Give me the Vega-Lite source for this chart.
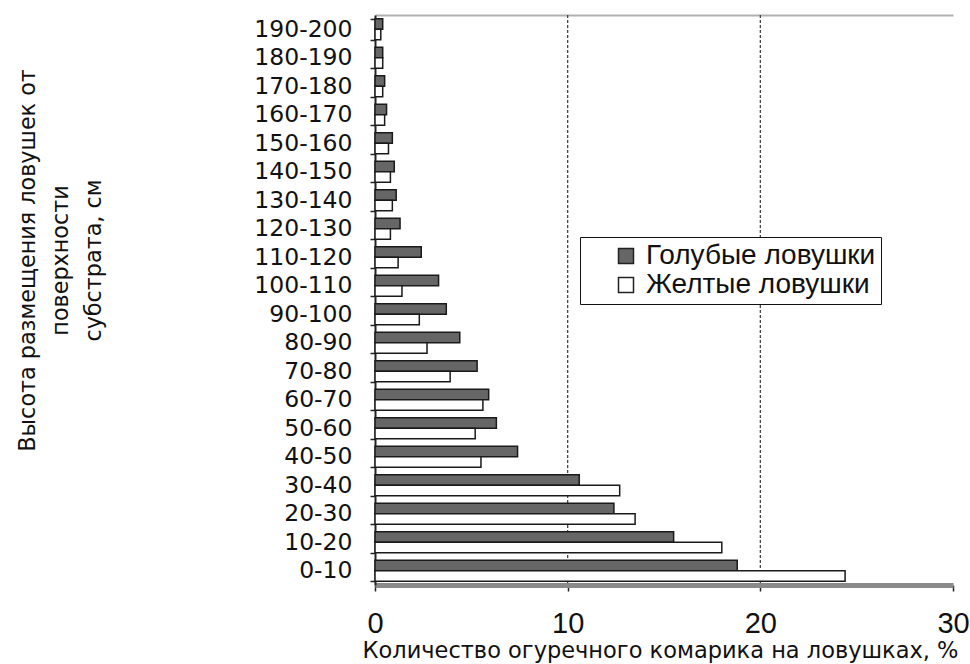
{
  "$schema": "https://vega.github.io/schema/vega-lite/v6.json",
  "width": 578,
  "height": 570,
  "autosize": {"type": "none"},
  "padding": {"left": 375, "top": 15, "right": 17, "bottom": 79},
  "background": "white",
  "config": {"view": {"stroke": null}, "font": "Liberation Sans"},
  "datasets": {
    "bars": [
      {"h": "0-10", "s": "Голубые ловушки", "v": 18.8},
      {"h": "0-10", "s": "Желтые ловушки", "v": 24.4},
      {"h": "10-20", "s": "Голубые ловушки", "v": 15.5},
      {"h": "10-20", "s": "Желтые ловушки", "v": 18.0},
      {"h": "20-30", "s": "Голубые ловушки", "v": 12.4},
      {"h": "20-30", "s": "Желтые ловушки", "v": 13.5},
      {"h": "30-40", "s": "Голубые ловушки", "v": 10.6},
      {"h": "30-40", "s": "Желтые ловушки", "v": 12.7},
      {"h": "40-50", "s": "Голубые ловушки", "v": 7.4},
      {"h": "40-50", "s": "Желтые ловушки", "v": 5.5},
      {"h": "50-60", "s": "Голубые ловушки", "v": 6.3},
      {"h": "50-60", "s": "Желтые ловушки", "v": 5.2},
      {"h": "60-70", "s": "Голубые ловушки", "v": 5.9},
      {"h": "60-70", "s": "Желтые ловушки", "v": 5.6},
      {"h": "70-80", "s": "Голубые ловушки", "v": 5.3},
      {"h": "70-80", "s": "Желтые ловушки", "v": 3.9},
      {"h": "80-90", "s": "Голубые ловушки", "v": 4.4},
      {"h": "80-90", "s": "Желтые ловушки", "v": 2.7},
      {"h": "90-100", "s": "Голубые ловушки", "v": 3.7},
      {"h": "90-100", "s": "Желтые ловушки", "v": 2.3},
      {"h": "100-110", "s": "Голубые ловушки", "v": 3.3},
      {"h": "100-110", "s": "Желтые ловушки", "v": 1.4},
      {"h": "110-120", "s": "Голубые ловушки", "v": 2.4},
      {"h": "110-120", "s": "Желтые ловушки", "v": 1.2},
      {"h": "120-130", "s": "Голубые ловушки", "v": 1.3},
      {"h": "120-130", "s": "Желтые ловушки", "v": 0.8},
      {"h": "130-140", "s": "Голубые ловушки", "v": 1.1},
      {"h": "130-140", "s": "Желтые ловушки", "v": 0.9},
      {"h": "140-150", "s": "Голубые ловушки", "v": 1.0},
      {"h": "140-150", "s": "Желтые ловушки", "v": 0.8},
      {"h": "150-160", "s": "Голубые ловушки", "v": 0.9},
      {"h": "150-160", "s": "Желтые ловушки", "v": 0.7},
      {"h": "160-170", "s": "Голубые ловушки", "v": 0.6},
      {"h": "160-170", "s": "Желтые ловушки", "v": 0.5},
      {"h": "170-180", "s": "Голубые ловушки", "v": 0.5},
      {"h": "170-180", "s": "Желтые ловушки", "v": 0.4},
      {"h": "180-190", "s": "Голубые ловушки", "v": 0.4},
      {"h": "180-190", "s": "Желтые ловушки", "v": 0.4},
      {"h": "190-200", "s": "Голубые ловушки", "v": 0.4},
      {"h": "190-200", "s": "Желтые ловушки", "v": 0.3}
    ],
    "grid": [{"g": 10}, {"g": 20}]
  },
  "layer": [
    {
      "data": {"name": "grid"},
      "mark": {"type": "rule", "strokeDash": [3, 2], "color": "#444", "strokeWidth": 1.3},
      "encoding": {
        "x": {
          "field": "g", "type": "quantitative",
          "scale": {"domain": [0, 30]},
          "axis": {"orient": "top", "domainColor": "#b0b0b0", "domainWidth": 2, "labels": false, "ticks": false, "grid": false, "title": null}
        }
      }
    },
    {
      "data": {"name": "bars"},
      "mark": {"type": "bar", "stroke": "#1a1a1a", "strokeWidth": 1.5},
      "encoding": {
        "y": {
          "field": "h", "type": "nominal",
          "sort": ["190-200", "180-190", "170-180", "160-170", "150-160", "140-150", "130-140", "120-130", "110-120", "100-110", "90-100", "80-90", "70-80", "60-70", "50-60", "40-50", "30-40", "20-30", "10-20", "0-10"],
          "scale": {"paddingInner": 0.26, "paddingOuter": 0.13},
          "axis": {
            "title": ["Высота размещения ловушек от", "поверхности", "субстрата,  см"],
            "titleFont": "DejaVu Sans", "titleFontSize": 22.3, "titleFontWeight": "normal", "titleColor": "#111",
            "titleAngle": -90, "titleX": -341, "titleY": 245, "titleAlign": "center", "titleBaseline": "alphabetic", "titleLineHeight": 33,
            "labelFont": "DejaVu Sans", "labelFontSize": 23.5, "labelColor": "#111", "labelPadding": 18,
            "tickSize": 5, "tickColor": "#222", "tickWidth": 1.5, "tickBand": "extent",
            "domainColor": "#222", "domainWidth": 2, "grid": false
          }
        },
        "yOffset": {"field": "s", "sort": ["Голубые ловушки", "Желтые ловушки"]},
        "x": {
          "field": "v", "type": "quantitative",
          "scale": {"domain": [0, 30]},
          "axis": {
            "values": [0, 10, 20, 30],
            "title": "Количество огуречного комарика на ловушках, %",
            "titleFont": "DejaVu Sans", "titleFontSize": 22.5, "titleFontWeight": "normal", "titleColor": "#111",
            "titleX": 285, "titleY": 72, "titleBaseline": "alphabetic", "titleLimit": 0,
            "labelFont": "Liberation Sans", "labelFontSize": 29, "labelColor": "#111", "labelBaseline": "alphabetic", "labelPadding": 41, "labelFlush": false,
            "tickSize": 6, "tickColor": "#222", "tickWidth": 1.5,
            "domainColor": "#8a8a8a", "domainWidth": 5, "grid": false
          }
        },
        "color": {
          "field": "s", "type": "nominal",
          "scale": {"domain": ["Голубые ловушки", "Желтые ловушки"], "range": ["#666666", "#ffffff"]},
          "legend": {
            "orient": "none", "legendX": 205, "legendY": 222, "title": null,
            "strokeColor": "#111", "fillColor": "white", "padding": 5,
            "symbolType": "square", "symbolSize": 225, "symbolStrokeColor": "#222", "symbolStrokeWidth": 1.5,
            "symbolOffset": 27, "labelOffset": 6, "rowPadding": 1, "labelLimit": 0,
            "labelFont": "Liberation Sans", "labelFontSize": 28, "labelColor": "#111",
            "labelExpr": "datum.label + '    '"
          }
        }
      }
    }
  ],
  "resolve": {"axis": {"x": "independent"}}
}
